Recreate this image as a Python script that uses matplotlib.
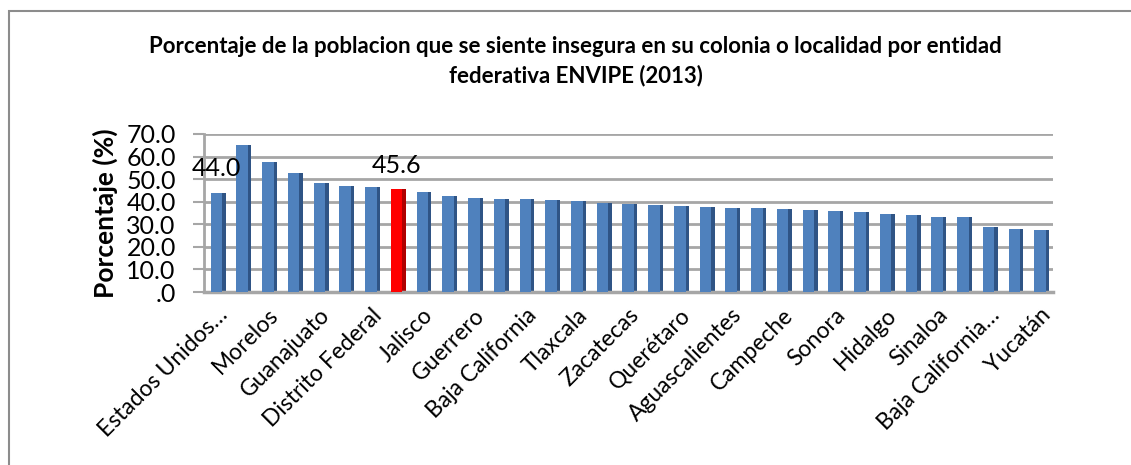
import numpy as np
import matplotlib
matplotlib.use('Agg')
import matplotlib.pyplot as plt
from matplotlib.patches import Rectangle

# Data (ENVIPE 2013)
entidades = ['Estados Unidos Mexicanos', 'Tamaulipas', 'Morelos', 'México', 'Guanajuato',
             'Chihuahua', 'Distrito Federal', 'Michoacán', 'Jalisco', 'Nuevo León',
             'Guerrero', 'Tabasco', 'Baja California', 'Durango', 'Tlaxcala',
             'Coahuila', 'Zacatecas', 'Veracruz', 'Querétaro', 'San Luis Potosí',
             'Aguascalientes', 'Oaxaca', 'Campeche', 'Puebla', 'Sonora',
             'Quintana Roo', 'Hidalgo', 'Colima', 'Sinaloa', 'Nayarit',
             'Baja California Sur', 'Chiapas', 'Yucatán']
porcentajes = [44.0, 65.3, 57.4, 52.8, 48.4, 47.0, 46.5, 45.6, 44.5, 42.3,
               41.6, 41.3, 41.3, 40.8, 40.3, 39.4, 39.1, 38.5, 38.1, 37.6,
               37.2, 37.0, 36.6, 36.3, 35.8, 35.3, 34.5, 34.2, 33.3, 33.0,
               28.9, 27.9, 27.4]
resaltado = 'Michoacán'
etiquetados = ['Estados Unidos Mexicanos', 'Michoacán']

plt.rcParams['font.family'] = ['Lato', 'DejaVu Sans']

fig = plt.figure(figsize=(11.31, 4.65), dpi=100)
ax = fig.add_axes([0.180, 0.372, 0.751, 0.340])

x = np.arange(len(entidades))
colores = ['#FF0000' if e == resaltado else '#4F81BD' for e in entidades]
lados = ['#B00000' if e == resaltado else '#2F5485' for e in entidades]

# side faces for the 3D look, then the fronts
ax.bar(x + 0.13, porcentajes, width=0.45, color=lados, zorder=2)
ax.bar(x, porcentajes, width=0.45, color=colores, zorder=3)

# gridlines
ax.set_ylim(0, 70)
ax.set_xlim(-0.5, len(entidades) - 0.5)
ax.set_yticks(np.arange(0, 71, 10))
ax.set_yticklabels(['.0'] + ['%.1f' % v for v in np.arange(10, 71, 10)])
ax.yaxis.grid(True, color='#A6A6A6', linewidth=2)
ax.set_axisbelow(True)
for s in ['top', 'right']:
    ax.spines[s].set_visible(False)
ax.spines['left'].set_color('#A6A6A6')
ax.spines['left'].set_linewidth(2)
ax.spines['bottom'].set_color('#A6A6A6')
ax.spines['bottom'].set_linewidth(2.5)
ax.tick_params(axis='y', length=8, color='#A6A6A6', width=1.5, labelsize=18, pad=12)
ax.tick_params(axis='x', length=0, labelsize=16.5, pad=9)

ax.set_xticks(x[::2])
etiquetas = []
for e in entidades[::2]:
    etiquetas.append(e if len(e) <= 16 else e[:15].rstrip() + '…')
etiquetas[0] = 'Estados Unidos…'
ax.set_xticklabels(etiquetas, rotation=45, ha='right', rotation_mode='anchor')

ax.set_ylabel('Porcentaje (%)', fontsize=19, fontweight='bold', labelpad=6)

# data labels
for i, e in enumerate(entidades):
    if e in etiquetados:
        ax.annotate('%.1f' % porcentajes[i], (x[i], porcentajes[i]), xytext=(0, 9),
                    textcoords='offset points', ha='center', va='bottom', fontsize=18)

fig.text(0.509, 0.900, 'Porcentaje de la poblacion que se siente insegura en su colonia o localidad por entidad',
         ha='center', va='center', fontsize=16, fontweight='bold')
fig.text(0.509, 0.838, 'federativa ENVIPE (2013)', ha='center', va='center',
         fontsize=16, fontweight='bold')

# chart border (clipped on right/bottom like the source)
fig.patches.append(Rectangle((9 / 1131, -0.05), 1.2, (465 - 11) / 465 + 0.05,
                             transform=fig.transFigure, fill=False,
                             edgecolor='#8C8C8C', linewidth=1.5))

fig.savefig('out.png', dpi=100)
